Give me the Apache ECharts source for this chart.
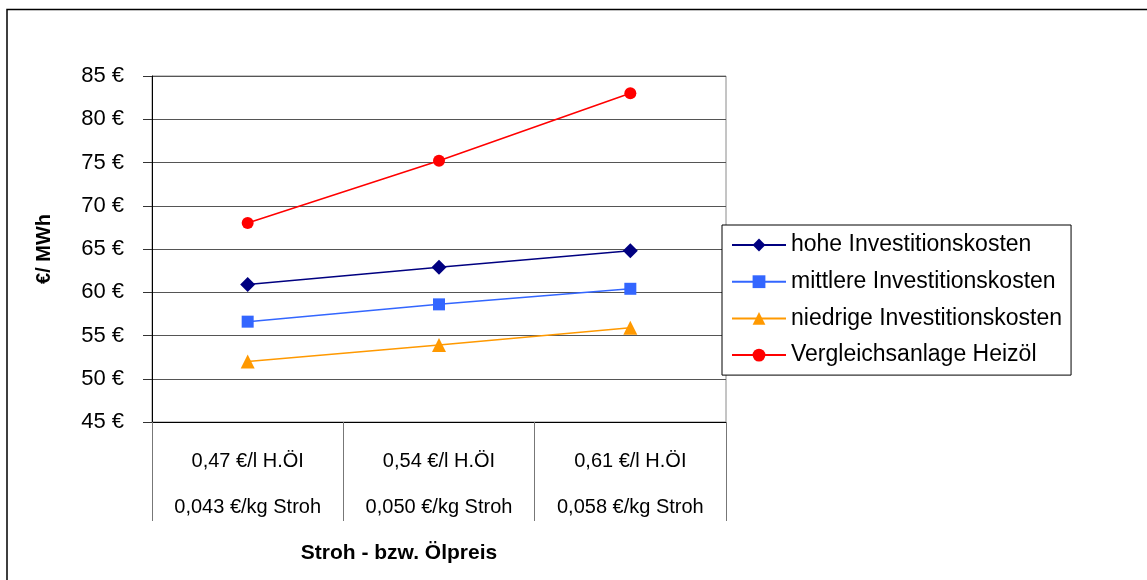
<!DOCTYPE html>
<html lang="de">
<head>
    <meta charset="UTF-8">
    <title>Stroh - bzw. Ölpreis</title>
    <script src="https://cdn.jsdelivr.net/npm/echarts@6/dist/echarts.min.js"></script>
    <style type="text/css">
        * { margin: 0; padding: 0; }
        html, body { width: 1147px; height: 580px; background: #fff; }
    </style>
</head>
<body>
<div id="main" style="width: 1147px;height:580px;"></div>

<script type="text/javascript">
    // Daten
    var oelpreis = ['0,47 €/l H.ÖI', '0,54 €/l H.ÖI', '0,61 €/l H.ÖI'];
    var strohpreis = ['0,043 €/kg Stroh', '0,050 €/kg Stroh', '0,058 €/kg Stroh'];
    var hoheKosten = [60.9, 62.9, 64.8];
    var mittlereKosten = [56.6, 58.6, 60.4];
    var niedrigeKosten = [52.0, 53.9, 55.9];
    var heizoel = [68.0, 75.2, 83.0];

    var font = '"Liberation Sans", Arial, sans-serif';
    var categories = oelpreis.map(function (o, i) { return o + '\n' + strohpreis[i]; });

    var myChart = echarts.init(document.getElementById('main'));

    function line(name, data, color, symbol, size) {
        return {
            name: name,
            type: 'line',
            data: data,
            symbol: symbol,
            symbolSize: size,
            itemStyle: {color: color},
            lineStyle: {color: color, width: 1.5},
            emphasis: {disabled: true},
            animation: false
        };
    }

    var option = {
        animation: false,
        textStyle: {fontFamily: font},
        grid: {
            left: 152, right: 421, top: 76, bottom: 158,
            show: true, borderColor: '#8a8a8a', borderWidth: 1
        },
        legend: {
            orient: 'vertical',
            left: 722, top: 225,
            padding: [8, 9, 8, 9],
            itemWidth: 54, itemHeight: 16, itemGap: 12.7,
            backgroundColor: '#fff',
            borderColor: '#000', borderWidth: 1,
            textStyle: {fontFamily: font, fontSize: 23, color: '#000', lineHeight: 24},
            data: ['hohe Investitionskosten', 'mittlere Investitionskosten', 'niedrige Investitionskosten', 'Vergleichsanlage Heizöl']
        },
        xAxis: {
            type: 'category',
            data: categories,
            boundaryGap: true,
            axisLine: {lineStyle: {color: '#000', width: 1}},
            axisTick: {show: true, interval: 0, length: 99, lineStyle: {color: '#777'}},
            axisLabel: {
                interval: 0, margin: 16,
                fontFamily: font, fontSize: 20, color: '#000', lineHeight: 46
            },
            splitLine: {show: false}
        },
        yAxis: {
            type: 'value',
            min: 45, max: 85, interval: 5,
            name: '€/ MWh',
            nameLocation: 'middle',
            nameRotate: 90,
            nameGap: 98,
            nameTextStyle: {fontFamily: font, fontSize: 20, fontWeight: 'bold', color: '#000'},
            axisLine: {show: true, lineStyle: {color: '#000', width: 1}},
            axisTick: {show: true, length: 9, lineStyle: {color: '#333'}},
            axisLabel: {
                margin: 28, fontFamily: font, fontSize: 22, color: '#000',
                formatter: '{value} €'
            },
            splitLine: {show: true, lineStyle: {color: '#555', width: 1}}
        },
        graphic: [
            {
                type: 'rect',
                shape: {x: 7, y: 9.5, width: 1160, height: 620},
                style: {fill: 'none', stroke: '#000', lineWidth: 1.5},
                silent: true
            },
            {
                type: 'text',
                x: 399, y: 553,
                style: {
                    text: 'Stroh - bzw. Ölpreis',
                    font: 'bold 21px "Liberation Sans", Arial, sans-serif',
                    fill: '#000', textAlign: 'center', textVerticalAlign: 'middle'
                }
            }
        ],
        series: [
            line('hohe Investitionskosten', hoheKosten, '#000080', 'diamond', 15),
            line('mittlere Investitionskosten', mittlereKosten, '#3366FF', 'rect', 12),
            line('niedrige Investitionskosten', niedrigeKosten, '#FF9900', 'triangle', 14),
            line('Vergleichsanlage Heizöl', heizoel, '#FF0000', 'circle', 12)
        ]
    };
    myChart.setOption(option);
</script>
</body>
</html>
